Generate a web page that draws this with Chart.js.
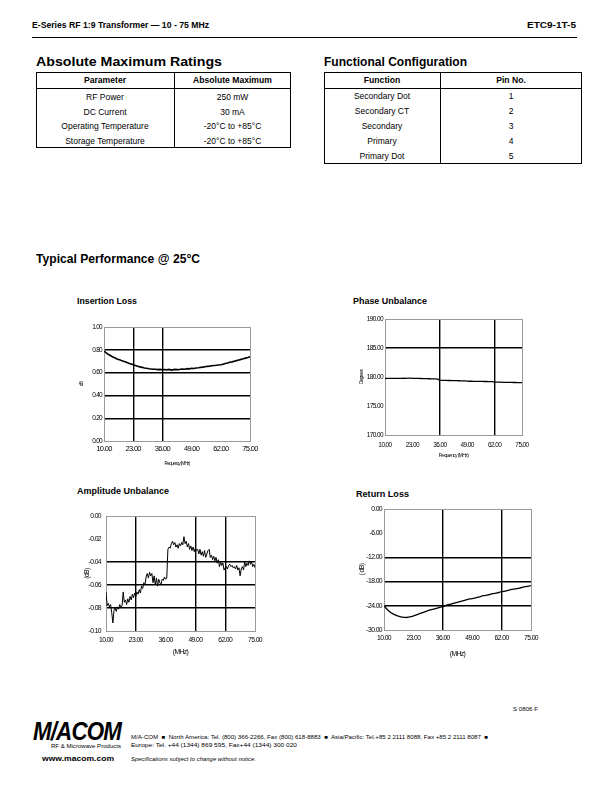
<!DOCTYPE html>
<html><head><meta charset="utf-8">
<script src="https://cdn.jsdelivr.net/npm/chart.js@4.4.1/dist/chart.umd.min.js"></script>
<style>
html,body{margin:0;padding:0;background:#fff;}
#page{position:relative;width:612px;height:792px;overflow:hidden;font-family:"Liberation Sans",Arial,sans-serif;color:#000;}
.t{position:absolute;white-space:nowrap;transform-origin:0 50%;display:inline-block;}
.b{font-weight:bold;}
.c{position:absolute;white-space:nowrap;transform:translateX(-50%);}
canvas{position:absolute;}
.box{position:absolute;border:1px solid #000;box-sizing:border-box;}
.hl{position:absolute;left:0;right:0;height:0;border-top:1px solid #000;}
.vl{position:absolute;top:0;bottom:0;width:0;border-left:1px solid #000;}
</style></head>
<body><div id="page">
<div class="t b" style="left:32px;top:19px;font-size:9.5px;line-height:11px" data-w="177">E-Series RF 1:9 Transformer — 10 - 75 MHz</div>
<div class="t b" style="left:527px;top:19px;font-size:9.5px;line-height:11px" data-w="49">ETC9-1T-5</div>
<div style="position:absolute;left:32px;top:37px;width:545px;border-top:1px solid #000"></div>

<div class="t b" style="left:36px;top:55px;font-size:12.5px;line-height:14px" data-w="186">Absolute Maximum Ratings</div>
<div class="t b" style="left:324px;top:55px;font-size:12.5px;line-height:14px" data-w="143">Functional Configuration</div>
<div id="tbl1"></div><div id="tbl2"></div>

<div class="t b" style="left:36px;top:252px;font-size:12.5px;line-height:14px" data-w="164">Typical Performance @ 25°C</div>
<div class="t b" style="left:77px;top:296px;font-size:9px;line-height:10px" data-w="60">Insertion Loss</div>
<div class="t b" style="left:353px;top:296px;font-size:9px;line-height:10px" data-w="74">Phase Unbalance</div>
<div class="t b" style="left:77px;top:486px;font-size:9px;line-height:10px" data-w="92">Amplitude Unbalance</div>
<div class="t b" style="left:356px;top:489px;font-size:9px;line-height:10px" data-w="53">Return Loss</div>

<canvas id="c1" width="201" height="159" style="left:64px;top:317px"></canvas>
<canvas id="c2" width="192" height="161" style="left:345px;top:309px"></canvas>
<canvas id="c3" width="204" height="160" style="left:66px;top:506px"></canvas>
<canvas id="c4" width="202" height="166" style="left:344px;top:499px"></canvas>

<div class="t" style="left:513px;top:706px;font-size:5.5px;line-height:6px" data-w="25">S 0806 F</div>
<div class="t b" style="left:33px;top:717px;font-size:26px;line-height:28px;font-style:italic;letter-spacing:-1px" data-w="88">M/ACOM</div>
<div class="t" style="left:51px;top:743px;font-size:5.5px;line-height:6px" data-w="70">RF &amp; Microwave Products</div>
<div class="t" style="left:131px;top:734px;font-size:5.5px;line-height:6px" data-w="357">M/A-COM &nbsp;■&nbsp; North America: Tel. (800) 366-2266, Fax (800) 618-8883 &nbsp;■&nbsp; Asia/Pacific: Tel.+85 2 2111 8088, Fax +85 2 2111 8087 &nbsp;■</div>
<div class="t" style="left:131px;top:742px;font-size:5.5px;line-height:6px" data-w="166">Europe: Tel. +44 (1344) 869 595, Fax+44 (1344) 300 020</div>
<div class="t b" style="left:42px;top:755px;font-size:7px;line-height:8px" data-w="72">www.macom.com</div>
<div class="t" style="left:131px;top:756px;font-size:5.5px;line-height:6px;font-style:italic" data-w="125">Specifications subject to change without notice.</div>
</div>
<script>
// ---------- table data ----------
const ratingsHeader = ["Parameter", "Absolute Maximum"];
const ratingsParams = ["RF Power", "DC Current", "Operating Temperature", "Storage Temperature"];
const ratingsValues = ["250 mW", "30 mA", "-20°C to +85°C", "-20°C to +85°C"];
const configHeader = ["Function", "Pin No."];
const configFunctions = ["Secondary Dot", "Secondary CT", "Secondary", "Primary", "Primary Dot"];
const configPins = ["1", "2", "3", "4", "5"];

// ---------- chart data ----------
const xTickLabels = ["10.00", "23.00", "36.00", "49.00", "62.00", "75.00"];
const ilFreq = [10,11,12,13,14,15,16,17,18,19,20,21,22,23,24,25,26,27,28,29,30,31,32,33,34,35,36,37,38,39,40,41,42,43,44,45,46,47,48,49,50,51,52,53,54,55,56,57,58,59,60,61,62,63,64,65,66,67,68,69,70,71,72,73,74,75];
const insertionLoss = [0.790,0.772,0.758,0.748,0.737,0.728,0.718,0.712,0.703,0.697,0.690,0.682,0.676,0.668,0.663,0.655,0.650,0.646,0.640,0.638,0.634,0.632,0.629,0.630,0.626,0.628,0.625,0.627,0.624,0.628,0.622,0.626,0.628,0.625,0.630,0.632,0.629,0.635,0.633,0.638,0.636,0.641,0.643,0.646,0.648,0.652,0.655,0.657,0.660,0.662,0.664,0.667,0.669,0.674,0.679,0.684,0.690,0.694,0.700,0.705,0.710,0.716,0.721,0.727,0.732,0.738];
const phFreq = ilFreq;
const phaseUnbalance = [179.74,179.75,179.76,179.75,179.77,179.76,179.78,179.77,179.78,179.79,179.78,179.80,179.79,179.78,179.77,179.76,179.75,179.74,179.73,179.72,179.71,179.70,179.69,179.68,179.66,179.62,179.45,179.43,179.42,179.41,179.40,179.40,179.38,179.37,179.36,179.35,179.34,179.33,179.32,179.28,179.27,179.27,179.26,179.25,179.24,179.24,179.23,179.22,179.22,179.21,179.20,179.20,179.12,179.11,179.11,179.10,179.09,179.08,179.08,179.07,179.06,179.05,179.05,179.04,179.03,179.02];
const auFreq = [10,10.5,11,11.5,12,12.5,13,13.5,14,14.5,15,15.5,16,16.5,17,17.5,18,18.5,19,19.5,20,20.5,21,21.5,22,22.5,23,23.5,24,24.5,25,25.5,26,26.5,27,27.5,28,28.5,29,29.5,30,30.5,31,31.5,32,32.5,33,33.5,34,34.5,35,35.5,36,36.5,37,37.5,38,38.5,39,39.5,40,40.5,41,41.5,42,42.5,43,43.5,44,44.5,45,45.5,46,46.5,47,47.5,48,48.5,49,49.5,50,50.5,51,51.5,52,52.5,53,53.5,54,54.5,55,55.5,56,56.5,57,57.5,58,58.5,59,59.5,60,60.5,61,61.5,62,62.5,63,63.5,64,64.5,65,65.5,66,66.5,67,67.5,68,68.5,69,69.5,70,70.5,71,71.5,72,72.5,73,73.5,74,74.5,75];
const amplitudeUnbalance = [-0.066,-0.078,-0.076,-0.079,-0.077,-0.084,-0.093,-0.082,-0.080,-0.083,-0.079,-0.081,-0.077,-0.080,-0.078,-0.066,-0.075,-0.073,-0.077,-0.072,-0.075,-0.070,-0.073,-0.068,-0.071,-0.067,-0.070,-0.066,-0.068,-0.064,-0.067,-0.061,-0.063,-0.058,-0.060,-0.053,-0.050,-0.054,-0.049,-0.052,-0.050,-0.058,-0.052,-0.060,-0.054,-0.061,-0.055,-0.058,-0.060,-0.055,-0.056,-0.053,-0.055,-0.054,-0.029,-0.027,-0.028,-0.024,-0.022,-0.025,-0.023,-0.027,-0.025,-0.028,-0.024,-0.026,-0.023,-0.025,-0.018,-0.024,-0.022,-0.027,-0.024,-0.029,-0.026,-0.030,-0.027,-0.031,-0.028,-0.030,-0.029,-0.033,-0.029,-0.034,-0.031,-0.035,-0.030,-0.036,-0.033,-0.030,-0.029,-0.036,-0.034,-0.038,-0.035,-0.039,-0.036,-0.041,-0.038,-0.044,-0.040,-0.043,-0.041,-0.047,-0.045,-0.044,-0.046,-0.043,-0.042,-0.044,-0.043,-0.045,-0.044,-0.046,-0.043,-0.047,-0.045,-0.052,-0.046,-0.044,-0.047,-0.040,-0.044,-0.041,-0.043,-0.039,-0.042,-0.040,-0.044,-0.042,-0.045];
const rlFreq = [10,12,14,16,18,20,22,24,26,28,30,32,34,36,38,40,42,44,46,48,50,52,54,56,58,60,62,64,66,68,70,72,74,75];
const returnLoss = [-24.0,-25.2,-26.0,-26.5,-26.8,-26.9,-26.7,-26.3,-25.9,-25.5,-25.1,-24.8,-24.5,-24.2,-23.8,-23.5,-23.2,-22.9,-22.6,-22.3,-22.1,-21.8,-21.5,-21.3,-21.0,-20.8,-20.5,-20.3,-20.0,-19.8,-19.6,-19.3,-19.1,-19.0];

// ---------- tables ----------
function buildTable(id, box, header, colA, colB) {
  const host = document.getElementById(id);
  const b = document.createElement('div');
  b.className = 'box';
  Object.assign(b.style, {left: box.l+'px', top: box.t+'px', width: box.w+'px', height: box.h+'px'});
  host.appendChild(b);
  const hl = document.createElement('div'); hl.className='hl'; hl.style.top = (box.hy - box.t - 1)+'px'; b.appendChild(hl);
  const vl = document.createElement('div'); vl.className='vl'; vl.style.left = (box.split - box.l - 1)+'px'; b.appendChild(vl);
  const cA = (box.l + box.split)/2, cB = (box.split + box.l + box.w)/2;
  function put(txt, cx, cy, bold) {
    const d = document.createElement('div');
    d.className = 'c';
    d.textContent = txt;
    Object.assign(d.style, {left: cx+'px', top: (cy-5)+'px', fontSize: bold?'8.6px':'8.5px', lineHeight:'10px', fontWeight: bold?'bold':'normal'});
    host.appendChild(d);
  }
  put(header[0], cA, box.hc, true); put(header[1], cB, box.hc, true);
  colA.forEach((s,i)=>{ put(s, cA, box.r0 + i*box.rh); put(colB[i], cB, box.r0 + i*box.rh); });
}
buildTable('tbl1', {l:36,t:72,w:255,h:76,hy:88,split:174,hc:80,r0:97,rh:14.5}, ratingsHeader, ratingsParams, ratingsValues);
buildTable('tbl2', {l:324,t:72,w:258,h:92,hy:88,split:440,hc:80,r0:96,rh:15}, configHeader, configFunctions, configPins);

// ---------- fit text widths ----------
document.querySelectorAll('[data-w]').forEach(el=>{
  const w = el.getBoundingClientRect().width;
  el.style.transform = 'scaleX(' + (+el.dataset.w / w) + ')';
});

// ---------- charts ----------
const TF = "'Liberation Sans',Arial,sans-serif";
const near = (v, arr) => arr.some(g => Math.abs(g - v) < 1e-7);
const condense = {
  id:'condense',
  beforeLayout(chart, args, opts) { chart.ctx.letterSpacing = opts.ls || '0px'; },
  beforeDraw(chart, args, opts) { chart.ctx.letterSpacing = opts.ls || '0px'; }
};
function lineChart(id, xs, ys, o) {
  const pts = xs.map((x,i)=>({x:x, y:ys[i]}));
  const gridFn = (vals, max) => ({
    drawTicks:false,
    color: c => (c.tick && near(c.tick.value, vals)) ? '#000' : (c.tick && Math.abs(c.tick.value-max)<1e-7 ? '#9a9a9a' : 'rgba(0,0,0,0)'),
    lineWidth: c => (c.tick && near(c.tick.value, vals)) ? 1.4 : 1
  });
  return new Chart(document.getElementById(id), {
    type:'line',
    plugins:[condense],
    data:{datasets:[{data:pts, borderColor:'#000', borderWidth:o.lw, pointRadius:0, tension:o.tension||0, cubicInterpolationMode:o.mono?'monotone':'default', fill:false}]},
    options:{
      responsive:false, animation:false, events:[],
      layout:{padding:{left:0,top:10,right:15,bottom:0}},
      plugins:{legend:{display:false}, tooltip:{enabled:false}, condense:{ls:o.ls}},
      scales:{
        x:{type:'linear', min:10, max:75,
           ticks:{stepSize:13, autoSkip:false, maxRotation:0, padding:o.xPad, color:'#000',
                  font:{family:TF, size:o.xFs}, callback:(v,i)=>xTickLabels[i]},
           grid:gridFn(o.gx, 75), border:{color:'#9a9a9a', width:1},
           title:{display:true, text:o.xTitle, color:'#000', font:{family:TF, size:o.xtFs}, padding:{top:0,bottom:o.xtPad}},
           afterFit:s=>{s.height=35;}},
        y:{type:'linear', min:o.ymin, max:o.ymax,
           ticks:{stepSize:o.ystep, autoSkip:false, padding:o.yPad, color:'#000',
                  font:{family:TF, size:o.yFs}, callback:v=>Number(v).toFixed(2)},
           grid:gridFn(o.gy, o.ymax), border:{color:'#9a9a9a', width:1},
           title:{display:true, text:o.yTitle, color:'#000', font:{family:TF, size:o.ytFs}, padding:{top:o.ytPad,bottom:0}},
           afterFit:s=>{s.width=40;}}
      }
    }
  });
}
lineChart('c1', ilFreq, insertionLoss, {lw:1.6, ls:'-0.7px', gx:[23,36], gy:[0.2,0.4,0.6,0.8], ymin:0, ymax:1, ystep:0.2,
  xFs:7.5, yFs:6.5, xPad:3, yPad:2, xTitle:'Frequency (MHz)', xtFs:4.6, xtPad:10, yTitle:'dB', ytFs:5, ytPad:15});
lineChart('c2', phFreq, phaseUnbalance, {lw:1.3, ls:'-0.6px', gx:[36,62], gy:[185], ymin:170, ymax:190, ystep:5,
  xFs:6.5, yFs:6.5, xPad:6, yPad:2, xTitle:'Frequency (MHz)', xtFs:5, xtPad:11, yTitle:'Degrees', ytFs:5, ytPad:14});
lineChart('c3', auFreq, amplitudeUnbalance, {lw:1, ls:'-0.6px', gx:[23,49,62], gy:[-0.04,-0.06,-0.08], ymin:-0.1, ymax:0, ystep:0.02,
  xFs:6.8, yFs:6.8, xPad:5, yPad:5, xTitle:'(MHz)', xtFs:6.8, xtPad:10, yTitle:'(dB)', ytFs:6.8, ytPad:17});
lineChart('c4', rlFreq, returnLoss, {lw:1.3, ls:'-0.6px', gx:[36,62], gy:[-12,-18,-24], ymin:-30, ymax:0, ystep:6, mono:true,
  xFs:6.8, yFs:6.8, xPad:4, yPad:2, xTitle:'(MHz)', xtFs:6.8, xtPad:7, yTitle:'( dB)', ytFs:6.8, ytPad:14});
</script>
</body></html>
